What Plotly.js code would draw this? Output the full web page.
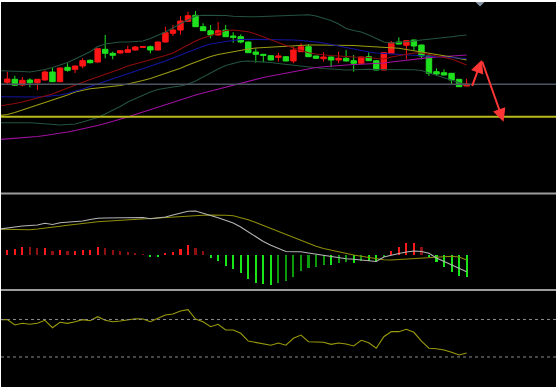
<!DOCTYPE html>
<html>
<head>
<meta charset="utf-8">
<script src="https://cdn.plot.ly/plotly-3.0.1.min.js"></script>
<style>
  html, body { margin:0; padding:0; background:#ffffff; }
  #chart { position:absolute; left:1px; top:2px; width:555px; height:385px; }
</style>
</head>
<body>
<div id="chart"></div>
<script>
// ---- candles (one per bar) ----
const open  = [117.7,120.7,115,120,117.3,120,128,118.3,132.7,130.7,134,139.7,138,150.7,146.7,147,147.7,150,152.7,153.3,150,158,166.7,170,178.7,184.7,173.3,169.3,165,170,164,163.3,158,148,145.7,144.3,142.7,143.3,139,148.3,153.3,144,141.3,143,140,141.7,139.3,136.7,143.3,139.3,130,146.7,158,154.7,160,155,144,128.3,127.3,126.7,120.7,114];
const high  = [128.3,124.3,123,121.7,121,129.7,132.3,132.5,136.7,134.5,141.7,140.5,152,165,148.3,149.7,154.3,154,154,154.5,158.5,173.3,175,184,188.3,189,176.7,175,178,175,167.7,165.7,158.5,151.7,146,144.7,147.3,143.7,153.3,156.7,155.7,144.3,147.7,143.3,148.3,150,145,143.3,147.7,139.7,147.7,159,162.7,159.7,160.3,155.3,144.3,131.7,130.7,127,121,121.3];
const low   = [115,114.3,113.7,112.7,110,119.5,118,118,128.3,127,131.7,136.5,137.5,141.7,140.7,146.5,147,149.5,152,146.7,149.5,157.5,164,165.3,178,173,169,161.7,164.5,163,157.3,156.7,147,137.3,137.7,139.7,138.3,138.7,136.7,148,143,141.3,138.3,132.7,136.7,138.7,128.3,136.3,139,129.7,129.7,146.3,155.7,140.7,149.3,140.7,124,125,124.7,116,113,113.7];
const close = [121,114.7,119.7,117.3,120.7,128,118.3,132,129.7,134,139.3,137.3,151.3,146.7,144.7,149.3,150.3,153,153.3,150,158,167.3,170,179,184.3,173.3,169.3,165,169.3,163.3,162.7,158,147.3,145.7,144.7,140,144,139,150,153.3,143.3,141.7,143,140,141.7,139,136.7,143,139.3,130,147.3,157.3,156,159.3,154,144,126.7,126,125,120,113.3,116];

// ---- overlay lines (first value = the bar before the first visible candle) ----
const bollUpper = [129.3,129.2,129,128.5,128,129,130.5,132.5,135,137.5,141,144.5,148.3,153.5,156,157,158,158,158.2,159,161.5,164.5,168,172,176.5,180,184,184.7,184.7,184.7,184.5,183.8,183.3,183.3,183.3,183.5,184,184.3,184.5,184.7,185,185.2,184,181.7,179.5,176,171.5,169.5,168,165,161.5,158,157,157.5,158.3,159,160,161,161.7,162.5,163.3,164.2,165];
const bollLower = [77.3,77.3,77.5,77.5,77.3,76.7,76,75.3,75,75.5,76,78,80,82.5,86,89.5,93.5,98,101.5,105,108,110.5,112,113,114,116,119,123,127.5,131,134.5,136.5,138.5,139,138.7,138.3,137.5,136.5,135.8,135,134,133.2,132.3,131.5,130.8,130.3,130,130.3,130.7,130.7,130.5,130.5,130.5,130.7,130.7,130.3,129.5,127,124.5,122.5,120,117.5,115];
const maMid     = [103.3,103.2,103,102.8,102.7,103,103.5,104,105,106.5,108.5,111,113.5,116,119,121.5,124,126.5,129,131.5,134,136.5,139,142,145,147.5,150.5,153.7,156,157.5,158.5,159.5,160.5,160.7,160.7,160.7,160.7,160.7,160.5,160,159.5,159,158,157,155.5,154,152,150.5,149,148,147,146.5,146,145.7,145.5,145,144.5,144,143.5,143,142.5,142,141.5];
const ma10      = [94,95,96.5,98,100,101.7,103.5,106,109,112,115,118,120.5,123,125.5,128,131,134,136,138,140,142.5,144.5,147,151,155,159,162,164.5,167.5,169.5,170,169.5,168.3,166,163,160,157,154.5,152,149.5,147.3,146,145,144.5,144,143.3,143,142.7,142.5,141.5,141,143,144.5,146,147,147,145.5,144,142.5,141,138,135];
const ma30      = [84.5,85.5,87.5,90,92,94.5,97,99.5,102,105,108,110,111.3,112,112.7,113.5,114.5,116,117.5,119.5,121.5,124,126.5,129,131.7,135,138,141,143.5,145.5,147,148.5,150,151,152,152.5,153,153.7,154.2,154.5,154.8,155,155,155,155,155,154.8,154.5,154,153.7,153.3,153,152.7,151.8,150.5,149.3,148.3,147,145.5,144.3,143,141.5,140];
const ma60      = [60.5,61,61.5,62,62.7,63.5,64.5,65.5,66.7,68,69.5,71,72.5,74.5,76.5,78.5,80.5,83,85.5,88,90.5,93,95.5,98,100.5,103,105,107,109,111,113,115,117,119,121,122.5,124,125.5,127,128.5,130,131.3,132.5,133.3,134,134.5,135,135.5,135.7,136,136.5,137,138,139,140,141,141.7,142.4,143,143.6,144.2,144.7,145];

// ---- user-drawn levels and projection ----
const levelGray = 115.7;
const levelYellow = 83.3;
const arrowIdx = [61.67, 63.0, 65.9];
const arrowPrice = [112.7, 140, 78.3];

// ---- MACD panel ----
const macdHist = [0.05,0.06,0.083,0.077,0.067,0.073,0.037,0.05,0.037,0.043,0.05,0.05,0.077,0.07,0.05,0.037,0.027,0.02,0.01,-0.015,-0.015,0.017,0.033,0.063,0.10,0.073,0.04,-0.025,-0.057,-0.11,-0.143,-0.183,-0.243,-0.277,-0.293,-0.30,-0.283,-0.257,-0.217,-0.16,-0.133,-0.117,-0.10,-0.10,-0.083,-0.067,-0.083,-0.057,-0.057,-0.07,-0.023,0.04,0.083,0.123,0.123,0.083,-0.017,-0.067,-0.123,-0.167,-0.21,-0.223];
const macdDif = [0.26,0.267,0.28,0.29,0.295,0.30,0.317,0.305,0.323,0.327,0.333,0.34,0.355,0.367,0.37,0.37,0.37,0.372,0.375,0.375,0.363,0.368,0.38,0.40,0.418,0.438,0.44,0.42,0.395,0.372,0.347,0.32,0.28,0.23,0.177,0.135,0.097,0.065,0.035,0.033,0.032,0.02,0.007,-0.005,-0.018,-0.032,-0.038,-0.043,-0.048,-0.055,-0.065,-0.02,0,0.015,0.03,0.04,0.035,0.017,-0.03,-0.065,-0.10,-0.135,-0.167];
const macdDea = [0.257,0.255,0.252,0.25,0.253,0.26,0.267,0.275,0.287,0.297,0.307,0.317,0.325,0.333,0.338,0.343,0.348,0.353,0.358,0.363,0.368,0.374,0.378,0.38,0.383,0.387,0.392,0.397,0.399,0.40,0.398,0.392,0.375,0.352,0.325,0.295,0.27,0.24,0.21,0.182,0.15,0.115,0.087,0.065,0.047,0.03,0.015,0,-0.013,-0.025,-0.037,-0.048,-0.05,-0.045,-0.04,-0.035,-0.03,-0.025,-0.02,-0.015,-0.013,-0.02,-0.05];

// ---- RSI panel ----
const rsi = [69.8,69.8,64.1,65.9,64.9,65.9,69.1,61.2,67.0,65.9,67.6,69.8,68.7,73.0,69.1,67.6,68.4,69.4,70.8,70.5,67.6,71.3,74.8,75.8,79.0,80.4,70.5,67.6,62.3,64.9,58.8,58.8,55.3,47.0,45.7,44.6,42.5,44.9,42.5,49.9,53.4,46.3,45.7,45.7,43.5,44.9,43.8,41.7,47.8,45.2,39.3,51.6,57.0,57.0,59.5,56.3,47.0,39.3,38.8,37.4,35.0,32.1,34.2];
const rsiLevels = [70, 30];

// ---------------------------------------------------------------
const idx = open.map((_, i) => i);
const lineIdx = bollUpper.map((_, i) => i - 1);

const histColors = macdHist.map((v, i) => {
  const p = i > 0 ? macdHist[i - 1] : 0;
  const growing = (Math.sign(v) !== Math.sign(p)) || Math.abs(v) >= Math.abs(p);
  if (v >= 0) return growing ? '#ff1a1a' : '#8e1010';
  return growing ? '#19e619' : '#0b9a0b';
});

function line(y, color, axis, w) {
  return { type:'scatter', mode:'lines', x: lineIdx, y: y, xaxis:'x', yaxis: axis,
           line:{ color: color, width: w || 1.1 }, hoverinfo:'skip' };
}

const traces = [
  { type:'candlestick', x: idx, open: open, high: high, low: low, close: close,
    xaxis:'x', yaxis:'y', whiskerwidth: 0,
    increasing:{ line:{ color:'#ff1515', width:1 }, fillcolor:'#ff1515' },
    decreasing:{ line:{ color:'#1fe01f', width:1 }, fillcolor:'#1fe01f' },
    hoverinfo:'skip' },
  line(bollUpper, '#24533f', 'y'),
  line(bollLower, '#24533f', 'y'),
  line(ma60, '#a010a0', 'y'),
  line(ma30, '#9c9c14', 'y'),
  line(maMid, '#1414a0', 'y'),
  line(ma10, '#8e0c0c', 'y'),
  { type:'bar', x: idx, y: macdHist, xaxis:'x', yaxis:'y2', width: 0.28,
    marker:{ color: histColors, line:{ width:0 } }, hoverinfo:'skip' },
  line(macdDea, '#8e8e0a', 'y2'),
  line(macdDif, '#b4b4b4', 'y2'),
  line(rsi, '#9a9a0c', 'y3')
];

const mainBottom = (387 - 193.5) / 385;
const rsiTop = (387 - 290) / 385;

const shapes = [
  { type:'line', xref:'paper', yref:'y', x0:0, x1:1, y0:levelGray, y1:levelGray,
    line:{ color:'#4e5562', width:1.5 } },
  { type:'line', xref:'paper', yref:'y', x0:0, x1:1, y0:levelYellow, y1:levelYellow,
    line:{ color:'#b9b91c', width:2 } },
  { type:'line', xref:'paper', yref:'paper', x0:0, x1:1, y0:mainBottom, y1:mainBottom,
    line:{ color:'#9c9c9c', width:2 } },
  { type:'line', xref:'paper', yref:'paper', x0:0, x1:1, y0:rsiTop, y1:rsiTop,
    line:{ color:'#9c9c9c', width:2 } },
  { type:'path', xref:'paper', yref:'paper', xsizemode:'pixel', ysizemode:'pixel',
    xanchor: 479/555, yanchor: 1, path:'M-4.5,0 L4.5,0 L0,-4.5 Z',
    fillcolor:'#8593a6', line:{ width:0 } }
];
rsiLevels.forEach(v => shapes.push({
  type:'line', xref:'paper', yref:'y3', x0:0, x1:1, y0:v, y1:v,
  line:{ color:'#8a8a8a', width:1, dash:'dot' } }));

const annotations = [
  { xref:'x', yref:'y', axref:'x', ayref:'y',
    x: arrowIdx[1], y: arrowPrice[1], ax: arrowIdx[0], ay: arrowPrice[0],
    text:'', showarrow:true, arrowhead:2, arrowsize:1.3, arrowwidth:2, arrowcolor:'#ff3636', standoff:0 },
  { xref:'x', yref:'y', axref:'x', ayref:'y',
    x: arrowIdx[2], y: arrowPrice[2], ax: arrowIdx[1], ay: arrowPrice[1],
    text:'', showarrow:true, arrowhead:2, arrowsize:1.3, arrowwidth:2, arrowcolor:'#ff3636', standoff:0 }
];

const layout = {
  width:555, height:385,
  margin:{ l:0, r:0, t:0, b:0, pad:0 },
  paper_bgcolor:'#000000', plot_bgcolor:'#000000',
  showlegend:false,
  boxgap:0.18, boxgroupgap:0.12,
  bargap:0,
  xaxis:{ range:[-0.837, 72.87], visible:false, rangeslider:{ visible:false }, fixedrange:true },
  yaxis:{ domain:[mainBottom, 1], range:[6.5, 198], visible:false, fixedrange:true },
  yaxis2:{ domain:[rsiTop, mainBottom], range:[-0.35, 0.615], visible:false, fixedrange:true },
  yaxis3:{ domain:[0, rsiTop], range:[-2.03, 101.44], visible:false, fixedrange:true },
  shapes: shapes,
  annotations: annotations
};

Plotly.newPlot('chart', traces, layout, { staticPlot:true, displayModeBar:false });
</script>
</body>
</html>
